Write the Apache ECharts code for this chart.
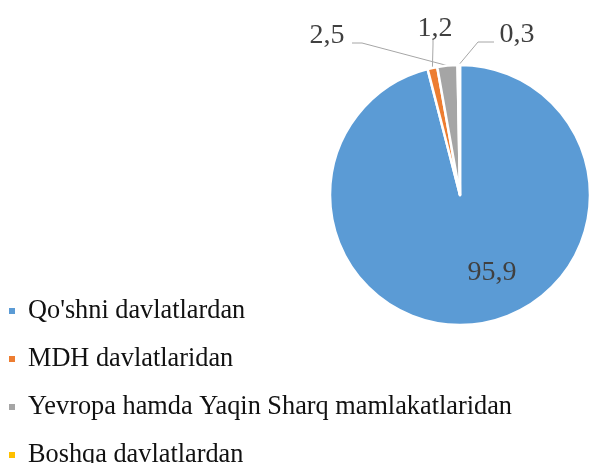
<!DOCTYPE html>
<html>
<head>
<meta charset="utf-8">
<script src="https://cdn.jsdelivr.net/npm/echarts@6/dist/echarts.min.js"></script>
<style>
html,body{margin:0;padding:0;background:#fff;}
#c{width:590px;height:463px;}
</style>
</head>
<body>
<div id="c"></div>
<script>
// Data
const categories = ["Qo'shni davlatlardan", "MDH davlatlaridan", "Yevropa hamda Yaqin Sharq mamlakatlaridan", "Boshqa davlatlardan"];
const values = [95.9, 1.2, 2.5, 0.3];
const valueLabels = ["95,9", "1,2", "2,5", "0,3"];

// Styles / layout (kept separate from data)
const colors = ['#5B9BD5', '#ED7D31', '#A5A5A5', '#FFC000'];
const labelPlacement = [
  { x: 492, y: 273, line: null },
  { x: 435, y: 29, line: [[433, 45], [433, 38]] },
  { x: 327, y: 36, line: [[362, 43], [352, 43]] },
  { x: 517, y: 35, line: [[478, 42], [494, 42]] }
];

const chart = echarts.init(document.getElementById('c'), null, { renderer: 'canvas' });
const FONT = '"Liberation Serif", "Times New Roman", serif';

chart.setOption({
  animation: false,
  color: colors,
  legend: {
    orient: 'vertical',
    left: 7,
    top: 298,
    height: 190,
    padding: 0,
    icon: 'rect',
    itemWidth: 8,
    itemHeight: 8,
    itemGap: 22,
    textStyle: { fontFamily: FONT, fontSize: 26.3, color: '#111', padding: [0, 0, 0, 7] },
    data: categories
  },
  series: [{
    type: 'pie',
    center: [460, 195],
    radius: [0, 130],
    startAngle: 90,
    clockwise: true,
    avoidLabelOverlap: false,
    itemStyle: { borderColor: '#fff', borderWidth: 2.5 },
    label: {
      show: true,
      position: 'outside',
      fontFamily: FONT,
      fontSize: 28,
      color: '#404040',
      formatter: p => valueLabels[p.dataIndex]
    },
    labelLine: { show: true, length: 10, length2: 10, lineStyle: { color: '#A6A6A6', width: 1 } },
    labelLayout: function (params) {
      const pl = labelPlacement[params.dataIndex];
      const out = { x: pl.x, y: pl.y, align: 'center', verticalAlign: 'middle' };
      if (pl.line && params.labelLinePoints) {
        out.labelLinePoints = [params.labelLinePoints[0], pl.line[0], pl.line[1]];
      }
      return out;
    },
    data: categories.map((n, i) => ({
      name: n,
      value: values[i],
      label: i === 0 ? { position: 'inside' } : undefined,
      labelLine: i === 0 ? { show: false } : undefined
    }))
  }]
});
</script>
</body>
</html>
